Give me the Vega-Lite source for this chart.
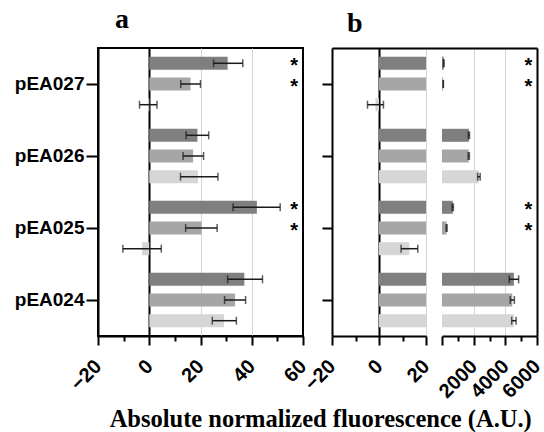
{
  "$schema": "https://vega.github.io/schema/vega-lite/v6.json",
  "padding": {"left": 13, "top": 5, "right": 5, "bottom": 0},
  "background": "white",
  "bounds": "flush",
  "spacing": 29,
  "config": {
    "view": {"stroke": "black", "strokeWidth": 2},
    "axis": {"domainColor": "black", "domainWidth": 2, "tickColor": "black", "tickWidth": 2, "labelColor": "black", "labelFont": "Liberation Sans", "labelFontWeight": "bold", "labelFontSize": 20, "gridColor": "#d4d4d4", "gridWidth": 1}
  },
  "title": {"text": "Absolute normalized fluorescence (A.U.)", "orient": "bottom", "anchor": "middle", "font": "Liberation Serif", "fontSize": 24.5, "fontWeight": "bold", "color": "black", "dx": 42, "offset": 6},
  "datasets": {
    "a": [
      {"construct": "pEA027", "series": "1", "value": 30.6, "lo": 25.1, "hi": 36.5, "sig": "*"},
      {"construct": "pEA027", "series": "2", "value": 16.1, "lo": 12.3, "hi": 20.0, "sig": "*"},
      {"construct": "pEA027", "series": "3", "value": -0.4, "lo": -3.8, "hi": 3.0, "sig": ""},
      {"construct": "pEA026", "series": "1", "value": 18.8, "lo": 14.4, "hi": 23.2, "sig": ""},
      {"construct": "pEA026", "series": "2", "value": 17.1, "lo": 13.2, "hi": 21.2, "sig": ""},
      {"construct": "pEA026", "series": "3", "value": 19.0, "lo": 12.2, "hi": 26.8, "sig": ""},
      {"construct": "pEA025", "series": "1", "value": 42.0, "lo": 32.7, "hi": 51.1, "sig": "*"},
      {"construct": "pEA025", "series": "2", "value": 20.4, "lo": 14.2, "hi": 26.5, "sig": "*"},
      {"construct": "pEA025", "series": "3", "value": -2.8, "lo": -10.3, "hi": 4.7, "sig": ""},
      {"construct": "pEA024", "series": "1", "value": 37.1, "lo": 30.6, "hi": 44.2, "sig": ""},
      {"construct": "pEA024", "series": "2", "value": 33.5, "lo": 29.4, "hi": 37.6, "sig": ""},
      {"construct": "pEA024", "series": "3", "value": 29.2, "lo": 24.6, "hi": 34.0, "sig": ""}
    ],
    "b": [
      {"construct": "pEA027", "series": "1", "value": 110, "lo": 90, "hi": 130, "sig": "*"},
      {"construct": "pEA027", "series": "2", "value": 80, "lo": 70, "hi": 90, "sig": "*"},
      {"construct": "pEA027", "series": "3", "value": -1.5, "lo": -4.9, "hi": 1.9, "sig": ""},
      {"construct": "pEA026", "series": "1", "value": 1700, "lo": 1660, "hi": 1740, "sig": ""},
      {"construct": "pEA026", "series": "2", "value": 1690, "lo": 1650, "hi": 1730, "sig": ""},
      {"construct": "pEA026", "series": "3", "value": 2330, "lo": 2250, "hi": 2410, "sig": ""},
      {"construct": "pEA025", "series": "1", "value": 680, "lo": 640, "hi": 720, "sig": "*"},
      {"construct": "pEA025", "series": "2", "value": 290, "lo": 260, "hi": 320, "sig": "*"},
      {"construct": "pEA025", "series": "3", "value": 12.9, "lo": 9.4, "hi": 16.5, "sig": ""},
      {"construct": "pEA024", "series": "1", "value": 4540, "lo": 4250, "hi": 4840, "sig": ""},
      {"construct": "pEA024", "series": "2", "value": 4440, "lo": 4310, "hi": 4570, "sig": ""},
      {"construct": "pEA024", "series": "3", "value": 4540, "lo": 4400, "hi": 4680, "sig": ""}
    ]
  },
  "hconcat": [
    {
      "width": 205,
      "height": 288,
      "data": {"name": "a"},
      "title": {"text": "a", "anchor": "start", "frame": "group", "dx": 17, "offset": -8, "baseline": "alphabetic", "font": "Liberation Serif", "fontSize": 28, "fontWeight": "bold", "color": "black"},
      "encoding": {
        "y": {"field": "construct", "type": "nominal", "scale": {"domain": ["pEA027", "pEA026", "pEA025", "pEA024"], "paddingInner": 0, "paddingOuter": 0}, "axis": {"title": null, "tickSize": 12, "labelPadding": 2, "labelFontSize": 19}},
        "yOffset": {"field": "series", "type": "nominal", "scale": {"paddingInner": 0.372, "paddingOuter": 0.425}}
      },
      "layer": [
        {
          "mark": {"type": "bar"},
          "encoding": {
            "x": {"field": "value", "type": "quantitative", "scale": {"domain": [-20, 60], "nice": false},
              "axis": {"orient": "bottom", "title": null, "values": [-20, 0, 20, 40, 60], "format": "d", "tickSize": 9, "labelAngle": -45, "labelAlign": "right", "labelBaseline": "middle", "labelPadding": 18, "labelFlush": false, "labelOverlap": false,
                "grid": true,
                "gridColor": {"condition": {"test": "datum.value === 0", "value": "black"}, "value": "#d4d4d4"},
                "gridWidth": {"condition": {"test": "datum.value === 0", "value": 2}, "value": 1},
                "gridOpacity": {"condition": {"test": "datum.value === 0 || datum.value === 20 || datum.value === 40", "value": 1}, "value": 0}}},
            "color": {"field": "series", "type": "nominal", "scale": {"domain": ["1", "2", "3"], "range": ["#7f7f7f", "#a6a6a6", "#d6d6d6"]}, "legend": null}
          }
        },
        {
          "mark": {"type": "rule", "color": "#1a1a1a", "strokeWidth": 1.5},
          "encoding": {
            "x": {"field": "lo", "type": "quantitative", "scale": {"domain": [-20, 60], "nice": false},
              "axis": {"orient": "bottom", "title": null, "values": [-10, 10, 30, 50], "tickSize": 5, "labels": false, "domain": false, "grid": false}},
            "x2": {"field": "hi"}
          }
        },
        {
          "mark": {"type": "tick", "color": "#1a1a1a", "thickness": 1.5, "size": 8},
          "encoding": {"x": {"field": "lo", "type": "quantitative", "scale": {"domain": [-20, 60], "nice": false}, "axis": null}}
        },
        {
          "mark": {"type": "tick", "color": "#1a1a1a", "thickness": 1.5, "size": 8},
          "encoding": {"x": {"field": "hi", "type": "quantitative", "scale": {"domain": [-20, 60], "nice": false}, "axis": null}}
        },
        {
          "mark": {"type": "text", "font": "Liberation Sans", "fontWeight": "bold", "fontSize": 20, "baseline": "middle", "align": "center", "dy": 3, "color": "black"},
          "encoding": {
            "x": {"datum": 56.5, "type": "quantitative", "scale": {"domain": [-20, 60], "nice": false}, "axis": null},
            "text": {"field": "sig"}
          }
        }
      ],
      "resolve": {"axis": {"x": "independent"}}
    },
    {
      "width": 205,
      "height": 288,
      "view": {"stroke": null},
      "data": {"name": "b"},
      "title": {"text": "b", "anchor": "start", "frame": "group", "dx": 15, "offset": -12, "baseline": "alphabetic", "font": "Liberation Serif", "fontSize": 28, "fontWeight": "bold", "color": "black"},
      "encoding": {
        "y": {"field": "construct", "type": "nominal", "scale": {"domain": ["pEA027", "pEA026", "pEA025", "pEA024"], "paddingInner": 0, "paddingOuter": 0}, "axis": null},
        "yOffset": {"field": "series", "type": "nominal", "scale": {"paddingInner": 0.372, "paddingOuter": 0.425}}
      },
      "layer": [
        {
          "mark": {"type": "text", "font": "Liberation Sans", "fontWeight": "bold", "fontSize": 20, "baseline": "middle", "align": "center", "dy": 3, "color": "black"},
          "encoding": {
            "y": {"field": "construct", "type": "nominal", "scale": {"domain": ["pEA027", "pEA026", "pEA025", "pEA024"], "paddingInner": 0, "paddingOuter": 0},
              "axis": {"title": null, "orient": "right", "ticks": false, "labels": false, "domain": true, "grid": false}},
            "x": {"datum": 5450, "type": "quantitative", "scale": {"domain": [-6947.4, 6000], "range": [0, 205], "nice": false},
              "axis": {"title": null, "orient": "top", "ticks": false, "labels": false, "domain": true, "grid": false}},
            "text": {"field": "sig"}
          }
        },
        {
          "mark": {"type": "bar"},
          "encoding": {
            "y": {"field": "construct", "type": "nominal", "scale": {"domain": ["pEA027", "pEA026", "pEA025", "pEA024"], "paddingInner": 0, "paddingOuter": 0}, "axis": {"title": null, "orient": "left", "tickSize": 10, "labels": false}},
            "x": {"field": "value", "type": "quantitative", "scale": {"domain": [-20, 20], "range": [0, 94], "clamp": true, "nice": false},
              "axis": {"orient": "bottom", "title": null, "values": [-20, 0, 20], "format": "d", "tickSize": 9, "labelAngle": -45, "labelAlign": "right", "labelBaseline": "middle", "labelPadding": 18, "labelFlush": false, "labelOverlap": false,
                "grid": true,
                "gridColor": {"condition": {"test": "datum.value === 0", "value": "black"}, "value": "#d4d4d4"},
                "gridWidth": {"condition": {"test": "datum.value === 0", "value": 2}, "value": 1},
                "gridOpacity": {"condition": {"test": "datum.value === 0 || datum.value === 20", "value": 1}, "value": 0}}},
            "color": {"field": "series", "type": "nominal", "scale": {"domain": ["1", "2", "3"], "range": ["#7f7f7f", "#a6a6a6", "#d6d6d6"]}, "legend": null}
          }
        },
        {
          "transform": [{"filter": "datum.value <= 20"}],
          "mark": {"type": "rule", "color": "#1a1a1a", "strokeWidth": 1.5},
          "encoding": {
            "x": {"field": "lo", "type": "quantitative", "scale": {"domain": [-20, 20], "range": [0, 94], "nice": false},
              "axis": {"orient": "bottom", "title": null, "values": [-10, 10], "tickSize": 5, "labels": false, "domain": false, "grid": false}},
            "x2": {"field": "hi"}
          }
        },
        {
          "transform": [{"filter": "datum.value <= 20"}],
          "mark": {"type": "tick", "color": "#1a1a1a", "thickness": 1.5, "size": 8},
          "encoding": {"x": {"field": "lo", "type": "quantitative", "scale": {"domain": [-20, 20], "range": [0, 94], "nice": false}, "axis": null}}
        },
        {
          "transform": [{"filter": "datum.value <= 20"}],
          "mark": {"type": "tick", "color": "#1a1a1a", "thickness": 1.5, "size": 8},
          "encoding": {"x": {"field": "hi", "type": "quantitative", "scale": {"domain": [-20, 20], "range": [0, 94], "nice": false}, "axis": null}}
        },
        {
          "transform": [{"filter": "datum.value > 20"}],
          "mark": {"type": "bar"},
          "encoding": {
            "x": {"field": "value", "type": "quantitative", "scale": {"domain": [0, 6000], "range": [110, 205], "nice": false},
              "axis": {"orient": "bottom", "title": null, "values": [0, 2000, 4000, 6000], "format": "d", "labelExpr": "datum.value === 0 ? '' : datum.label", "tickSize": 9, "labelAngle": -45, "labelAlign": "right", "labelBaseline": "middle", "labelPadding": 18, "labelFlush": false, "labelOverlap": false,
                "grid": true,
                "gridOpacity": {"condition": {"test": "datum.value === 2000 || datum.value === 4000", "value": 1}, "value": 0}}},
            "color": {"field": "series", "type": "nominal", "scale": {"domain": ["1", "2", "3"], "range": ["#7f7f7f", "#a6a6a6", "#d6d6d6"]}, "legend": null}
          }
        },
        {
          "transform": [{"filter": "datum.value > 20"}],
          "mark": {"type": "rule", "color": "#1a1a1a", "strokeWidth": 1.5},
          "encoding": {
            "x": {"field": "lo", "type": "quantitative", "scale": {"domain": [0, 6000], "range": [110, 205], "nice": false},
              "axis": {"orient": "bottom", "title": null, "values": [1000, 3000, 5000], "tickSize": 5, "labels": false, "domain": false, "grid": false}},
            "x2": {"field": "hi"}
          }
        },
        {
          "transform": [{"filter": "datum.value > 20"}],
          "mark": {"type": "tick", "color": "#1a1a1a", "thickness": 1.5, "size": 8},
          "encoding": {"x": {"field": "lo", "type": "quantitative", "scale": {"domain": [0, 6000], "range": [110, 205], "nice": false}, "axis": null}}
        },
        {
          "transform": [{"filter": "datum.value > 20"}],
          "mark": {"type": "tick", "color": "#1a1a1a", "thickness": 1.5, "size": 8},
          "encoding": {"x": {"field": "hi", "type": "quantitative", "scale": {"domain": [0, 6000], "range": [110, 205], "nice": false}, "axis": null}}
        }
      ],
      "resolve": {"scale": {"x": "independent"}, "axis": {"x": "independent", "y": "independent"}}
    }
  ]
}
